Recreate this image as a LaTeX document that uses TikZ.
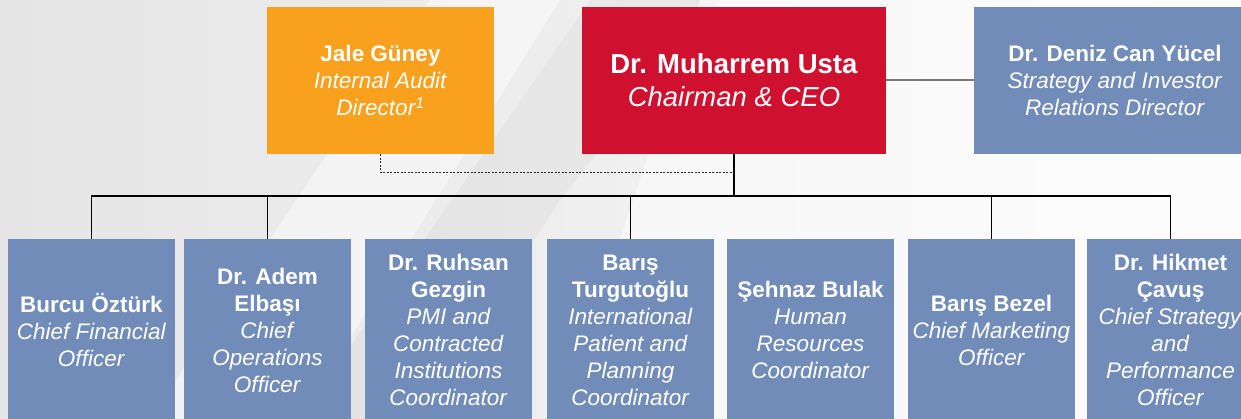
\documentclass[tikz,border=0pt]{standalone}
\usepackage{fontspec}
\setmainfont{Liberation Sans}
\definecolor{orangebox}{HTML}{F9A01D}
\definecolor{redbox}{HTML}{D0102F}
\definecolor{bluebox}{HTML}{718CB9}
\definecolor{bgleft}{HTML}{E5E5E6}
\definecolor{bgright}{HTML}{FAFAFA}
\definecolor{linkgray}{HTML}{777777}
\begin{document}
\begin{tikzpicture}[x=1pt,y=-1pt,
  box/.style={inner sep=0pt, text=white, align=center,
    font=\fontsize{22.5}{27}\selectfont},
  topbox/.style={box, minimum height=147pt},
  staffbox/.style={box, fill=bluebox, minimum width=167pt, minimum height=182pt},
  orgline/.style={black, line width=1.2pt},
  auditline/.style={black!85, line width=1.3pt, dash pattern=on 2pt off 1.5pt}]
\clip (0,0) rectangle (1241,419);
% background
\shade[left color=bgleft, right color=bgright] (0,0) rectangle (1241,419);
\fill[white, opacity=0.45] (430,0) -- (590,0) -- (300,419) -- (150,419) -- cycle;
\fill[black, opacity=0.03] (560,0) -- (720,0) -- (560,200) -- (420,419) -- (300,419) -- cycle;
\fill[white, opacity=0.5] (700,0) -- (1241,0) -- (1241,419) -- (560,419) -- cycle;

% top row
\node[topbox, fill=orangebox, minimum width=227pt] (jale) at (380.5,80.5)
  {\textbf{Jale Güney}\\\textit{Internal Audit}\\\textit{Director\textsuperscript{1}}};
\node[topbox, fill=redbox, minimum width=304pt,
  font=\fontsize{27.5}{33}\selectfont] (ceo) at (734,80.5)
  {\textbf{Dr. Muharrem Usta}\\\textit{Chairman \& CEO}};
\node[topbox, fill=bluebox, minimum width=282pt] (deniz) at (1115,80.5)
  {\textbf{Dr. Deniz Can Yücel}\\\textit{Strategy and Investor}\\\textit{Relations Director}};

% bottom row
\node[staffbox] (b1) at (91.5,330)
  {\textbf{Burcu Öztürk}\\\textit{Chief Financial}\\\textit{Officer}};
\node[staffbox] (b2) at (267.5,330)
  {\textbf{Dr. Adem}\\\textbf{Elbaşı}\\\textit{Chief}\\\textit{Operations}\\\textit{Officer}};
\node[staffbox] (b3) at (448.5,330)
  {\textbf{Dr. Ruhsan}\\\textbf{Gezgin}\\\textit{PMI and}\\\textit{Contracted}\\\textit{Institutions}\\\textit{Coordinator}};
\node[staffbox] (b4) at (630.5,330)
  {\textbf{Barış}\\\textbf{Turgutoğlu}\\\textit{International}\\\textit{Patient and}\\\textit{Planning}\\\textit{Coordinator}};
\node[staffbox] (b5) at (810.5,330)
  {\textbf{Şehnaz Bulak}\\\textit{Human}\\\textit{Resources}\\\textit{Coordinator}};
\node[staffbox] (b6) at (991.5,330)
  {\textbf{Barış Bezel}\\\textit{Chief Marketing}\\\textit{Officer}};
\node[staffbox] (b7) at (1170.5,330)
  {\textbf{Dr. Hikmet}\\\textbf{Çavuş}\\\textit{Chief Strategy}\\\textit{and}\\\textit{Performance}\\\textit{Officer}};

% connectors
\coordinate (hub) at (734,196);
\coordinate (audit) at (734,172.7);
\draw[linkgray, line width=2pt] (ceo.east |- 0,80) -- (deniz.west |- 0,80);
\draw[orgline] (ceo.south) -- (hub);
\draw[orgline] (b1.north) -- (b1.north |- hub) -- (b7.north |- hub) -- (b7.north);
\foreach \n in {b2,b4,b6} \draw[orgline] (\n.north) -- (\n.north |- hub);
\draw[auditline] (jale.south) |- (audit);
\end{tikzpicture}
\end{document}
